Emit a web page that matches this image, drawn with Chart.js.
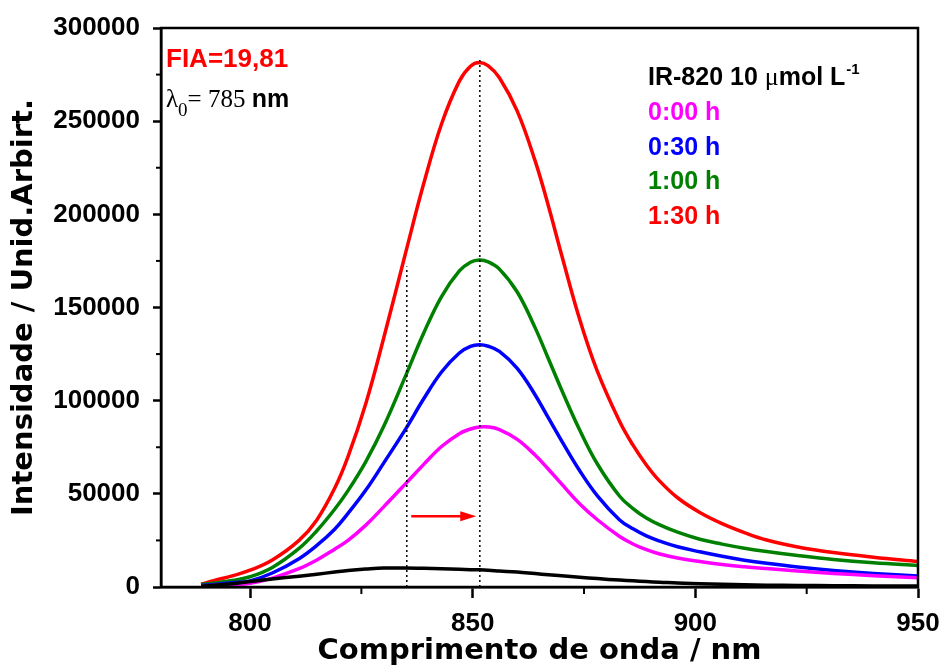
<!DOCTYPE html>
<html>
<head>
<meta charset="utf-8">
<title>IR-820 emission</title>
<script src="https://cdn.jsdelivr.net/npm/chart.js@4.4.1/dist/chart.umd.min.js"></script>
<style>
    html, body { margin:0; padding:0; background:#fff; }
    #wrap { width:944px; height:666px; }
</style>
</head>
<body>
<div id="wrap"><canvas id="emChart" width="944" height="666"></canvas></div>
<script>

/* DATA */

const wavelengths = [789, 792, 796, 800, 805, 811, 815, 819, 822, 826, 830, 835, 839, 843, 847, 849.5, 851.5, 853.5,
    856, 860, 864, 867, 870, 874, 878, 883, 886, 889, 892, 896, 901, 906, 911, 916, 923, 931, 940, 950];

const ir820Only = [500, 1000, 1800, 3000, 4300, 5800, 6900, 8000, 8800, 9600, 10200, 10200, 10000, 9800, 9500, 9300, 9200, 9000,
    8600, 8000, 7200, 6600, 6000, 5200, 4500, 3700, 3300, 2900, 2600, 2100, 1800, 1500, 1200, 1000, 850, 700, 600, 500];

const h0000 = [500, 800, 1300, 2000, 4800, 9800, 14500, 20300, 25000, 33200, 43000, 55600, 65800, 75400, 82300, 84800, 85900, 85900,
    84500, 79200, 70800, 63200, 55200, 44700, 36100, 27100, 23100, 20000, 17700, 15600, 13700, 12100, 10900, 9900, 8600, 7300, 6100, 5000];

const h0030 = [800, 1400, 2300, 3300, 7500, 15200, 22300, 31000, 39500, 52000, 66500, 85000, 101000, 115400, 125600, 129100, 130000, 129200,
    126400, 117300, 103200, 90700, 78300, 62500, 48900, 36000, 31200, 27400, 24600, 21600, 18900, 16500, 14400, 12700, 10700, 8900, 7300, 5900];

const h0100 = [1300, 2100, 3500, 5500, 10500, 20700, 30200, 41700, 51700, 67300, 86100, 113700, 136300, 155900, 169600, 174300, 175500, 174500,
    170600, 158300, 139200, 122500, 105600, 84400, 66000, 48700, 42100, 37000, 33300, 29400, 25600, 23000, 20800, 19000, 16900, 14800, 13000, 11500];

const h0130 = [1500, 3500, 6000, 9000, 14500, 25000, 36000, 53000, 70000, 98500, 133500, 180000, 216500, 248500, 271500, 279500, 281500, 279700,
    273300, 255400, 228800, 204500, 177900, 143800, 115700, 88800, 76100, 65500, 56800, 47900, 40000, 34000, 29200, 25200, 21500, 18500, 16000, 13700];

const xTicks = [800, 850, 900, 950];
const xMinorTicks = [825, 875, 925];
const yTicks = [0, 50000, 100000, 150000, 200000, 250000, 300000];
const yMinorTicks = [25000, 75000, 125000, 175000, 225000, 275000];

// dotted guide lines (wavelength, height) and the shift arrow
const guideX = [835.2, 851.6];
const guideTop = [172000, 284000];
const arrowFrom = 836.2;
const arrowTo = 850.8;
const arrowY = 38000;

const legendLabels = ["0:00 h", "0:30 h", "1:00 h", "1:30 h"];
const legendColors = ["#ff00ff", "#0000ff", "#008000", "#ff0000"];

/* HELPERS */

function toPoints(xs, ys){
    return xs.map((x, i) => ({x:x, y:ys[i]}));
}

function curve(values, color){
    return {
        data: toPoints(wavelengths, values),
        borderColor: color,
        borderWidth: 3.5,
        pointRadius: 0,
        fill: false,
        tension: 0.4
    };
}

function guide(i){
    return {
        data: [{x:guideX[i], y:0}, {x:guideX[i], y:guideTop[i]}],
        borderColor: "#000",
        borderWidth: 1.5,
        borderDash: [2, 3],
        pointRadius: 0,
        fill: false
    };
}

const SANS = "'Liberation Sans', Arial, sans-serif";
const SERIF = "'Liberation Serif', 'Times New Roman', serif";

/* EXTRA DRAWING: frame, minor ticks, arrow, texts */

const decorPlugin = {
    id: "decor",
    afterDraw(chart){

        const ctx = chart.ctx;
        const area = chart.chartArea;
        const xs = chart.scales.x;
        const ys = chart.scales.y;

        ctx.save();

        // frame
        ctx.strokeStyle = "#000";
        ctx.lineWidth = 2.5;
        ctx.strokeRect(area.left, area.top, area.right - area.left, area.bottom - area.top);

        // minor ticks
        ctx.lineWidth = 2;
        xMinorTicks.forEach(v => {
            const px = xs.getPixelForValue(v);
            ctx.beginPath();
            ctx.moveTo(px, area.bottom);
            ctx.lineTo(px, area.bottom + 7);
            ctx.stroke();
        });
        yMinorTicks.forEach(v => {
            const py = ys.getPixelForValue(v);
            ctx.beginPath();
            ctx.moveTo(area.left, py);
            ctx.lineTo(area.left - 5, py);
            ctx.stroke();
        });

        // arrow
        const ax1 = xs.getPixelForValue(arrowFrom);
        const ax2 = xs.getPixelForValue(arrowTo);
        const ay = ys.getPixelForValue(arrowY);
        ctx.strokeStyle = "#ff0000";
        ctx.fillStyle = "#ff0000";
        ctx.lineWidth = 2.5;
        ctx.beginPath();
        ctx.moveTo(ax1, ay);
        ctx.lineTo(ax2 - 14, ay);
        ctx.stroke();
        ctx.beginPath();
        ctx.moveTo(ax2, ay);
        ctx.lineTo(ax2 - 16, ay - 5);
        ctx.lineTo(ax2 - 16, ay + 5);
        ctx.closePath();
        ctx.fill();

        // FIA label
        ctx.textBaseline = "alphabetic";
        ctx.textAlign = "left";
        ctx.fillStyle = "#ff0000";
        ctx.font = "bold 26px " + SANS;
        ctx.fillText("FIA=19,81", 166, 67);

        // lambda0 label
        ctx.fillStyle = "#000";
        let x = 166;
        ctx.font = "25px " + SERIF;
        ctx.fillText("\u03bb", x, 107);
        x += ctx.measureText("\u03bb").width;
        ctx.font = "19px " + SERIF;
        ctx.fillText("0", x, 116);
        x += ctx.measureText("0").width;
        ctx.font = "25px " + SERIF;
        ctx.fillText("= 785 ", x, 107);
        x += ctx.measureText("= 785 ").width;
        ctx.font = "bold 25px " + SANS;
        ctx.fillText("nm", x, 107);

        // legend block
        x = 648;
        ctx.font = "bold 25px " + SANS;
        ctx.fillText("IR-820 10 ", x, 85);
        x += ctx.measureText("IR-820 10 ").width;
        ctx.font = "26px " + SERIF;
        ctx.fillText("\u03bc", x, 85);
        x += ctx.measureText("\u03bc").width;
        ctx.font = "bold 25px " + SANS;
        ctx.fillText("mol L", x, 85);
        x += ctx.measureText("mol L").width;
        ctx.font = "bold 15px " + SANS;
        ctx.fillText("-1", x + 1, 74);

        ctx.font = "bold 25px " + SANS;
        legendLabels.forEach((label, i) => {
            ctx.fillStyle = legendColors[i];
            ctx.fillText(label, 648, 120 + i * 34.5);
        });

        ctx.restore();
    }
};

/* CHART */

const ctx = document.getElementById("emChart");

new Chart(ctx, {
    type: "line",
    data: {
        datasets: [
            guide(0),
            guide(1),
            curve(ir820Only, "#000000"),
            curve(h0000, "#ff00ff"),
            curve(h0030, "#0000ff"),
            curve(h0100, "#008000"),
            curve(h0130, "#ff0000")
        ]
    },
    options: {
        responsive: false,
        animation: false,
        layout: {
            padding: {top:28, right:26, left:0, bottom:0}
        },
        plugins: {
            legend: {display:false},
            tooltip: {enabled:false}
        },
        scales: {
            x: {
                type: "linear",
                min: 780,
                max: 950,
                afterBuildTicks: scale => {
                    scale.ticks = xTicks.map(v => ({value:v}));
                },
                afterFit: scale => {
                    scale.height = 79;
                    scale.paddingLeft = 0;
                    scale.paddingRight = 0;
                },
                grid: {
                    drawOnChartArea: false,
                    drawTicks: true,
                    tickLength: 11,
                    tickWidth: 2.5,
                    tickColor: "#000"
                },
                border: {display:true, color:"#000", width:2.5},
                ticks: {
                    color: "#000",
                    padding: 10,
                    maxRotation: 0,
                    font: {family: SANS, size: 26, weight: "bold"}
                },
                title: {
                    display: true,
                    text: "Comprimento de onda / nm",
                    color: "#000",
                    padding: {top:0, bottom:0},
                    font: {family: "'DejaVu Sans', sans-serif", size: 29, weight: "bold", lineHeight: 1}
                }
            },
            y: {
                type: "linear",
                min: 0,
                max: 300000,
                afterBuildTicks: scale => {
                    scale.ticks = yTicks.map(v => ({value:v}));
                },
                afterFit: scale => {
                    scale.width = 161;
                    scale.paddingTop = 0;
                    scale.paddingBottom = 0;
                },
                grid: {
                    drawOnChartArea: false,
                    drawTicks: true,
                    tickLength: 8,
                    tickWidth: 2.5,
                    tickColor: "#000"
                },
                border: {display:true, color:"#000", width:2.5},
                ticks: {
                    color: "#000",
                    padding: 13,
                    font: {family: SANS, size: 26, weight: "bold"},
                    callback: v => String(v)
                },
                title: {
                    display: true,
                    text: "Intensidade / Unid.Arbirt.",
                    color: "#000",
                    padding: {top:10, bottom:0},
                    font: {family: "'DejaVu Sans', sans-serif", size: 29, weight: "bold", lineHeight: 1}
                }
            }
        }
    },
    plugins: [decorPlugin]
});

</script>
</body>
</html>
